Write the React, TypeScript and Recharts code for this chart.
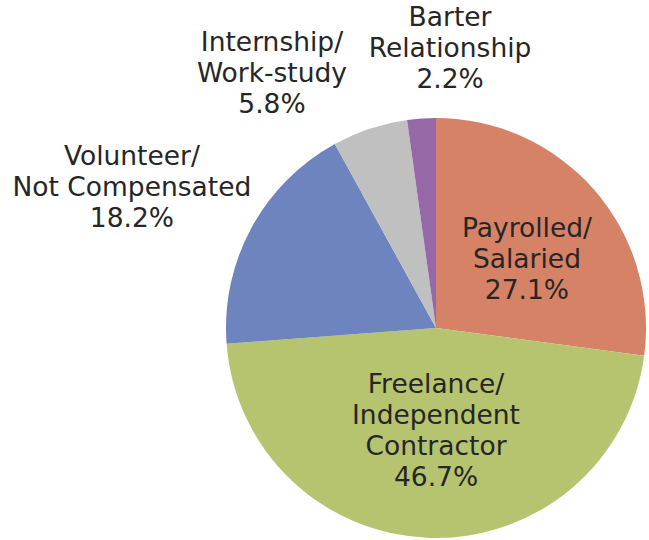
import { PieChart, Pie, Cell } from "recharts";

// slice order follows the reference, clockwise from 12 o'clock
const categories = [
  "Payrolled/\nSalaried",
  "Freelance/\nIndependent\nContractor",
  "Volunteer/\nNot Compensated",
  "Internship/\nWork-study",
  "Barter\nRelationship",
];
const shares = [27.1, 46.7, 18.2, 5.8, 2.2];
const colors = ["#D68266", "#B6C46F", "#6E84BE", "#C0C0C0", "#9668A8"];

// label block centre, relative to pie centre, in units of the outer radius
const labelOffsets = [
  [0.433, -0.328],
  [0.0, 0.49],
  [-1.448, -0.671],
  [-0.781, -1.214],
  [0.067, -1.333],
];

const data = categories.map((name, i) => ({ name, value: shares[i] }));

const LINE_H = 31;

function renderLabel(props: any) {
  const { cx, cy, outerRadius, index, value } = props;
  const [ox, oy] = labelOffsets[index];
  const x = cx + ox * outerRadius;
  const y = cy + oy * outerRadius;
  const lines = [...categories[index].split("\n"), `${value.toFixed(1)}%`];
  const first = y - ((lines.length - 1) / 2) * LINE_H + 9;
  return (
    <text
      x={x}
      y={first}
      textAnchor="middle"
      fill="#262626"
      fontSize={26.5}
      fontFamily="'DejaVu Sans', sans-serif"
    >
      {lines.map((l, i) => (
        <tspan key={i} x={x} y={first + i * LINE_H}>
          {l}
        </tspan>
      ))}
    </text>
  );
}

export default function App() {
  return (
    <div style={{ position: "absolute", left: 0, top: 0, background: "#fff" }}>
      <PieChart width={649} height={540} margin={{ top: 0, right: 0, bottom: 0, left: 0 }}>
        <Pie
          data={data}
          dataKey="value"
          nameKey="name"
          cx={436}
          cy={328}
          outerRadius={210}
          startAngle={90}
          endAngle={-270}
          stroke="none"
          label={renderLabel}
          labelLine={false}
          isAnimationActive={false}
        >
          {data.map((_, i) => (
            <Cell key={i} fill={colors[i]} />
          ))}
        </Pie>
      </PieChart>
    </div>
  );
}
